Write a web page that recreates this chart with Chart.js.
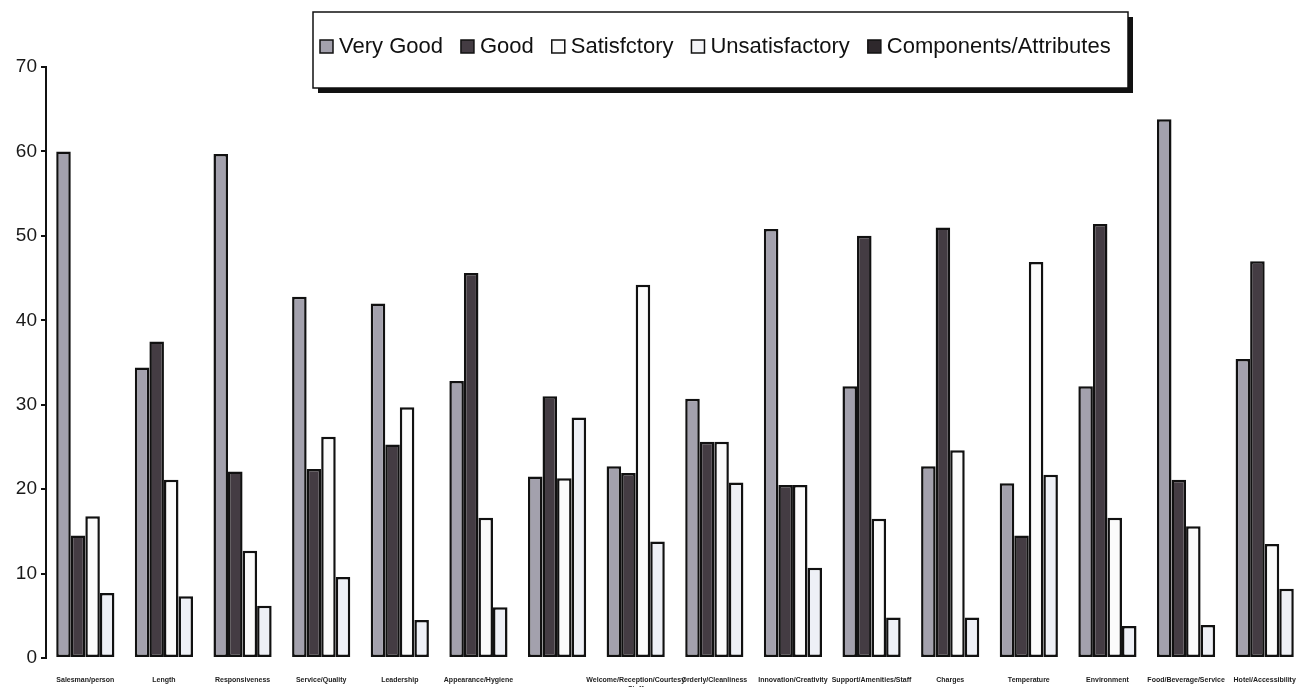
<!DOCTYPE html>
<html>
<head>
<meta charset="utf-8">
<script src="https://cdn.jsdelivr.net/npm/chart.js@4/dist/chart.umd.min.js"></script>
<style>
  html, body { margin: 0; padding: 0; background: #fff; }
  #wrap { width: 1313px; height: 687px; position: relative; }
</style>
</head>
<body>
<div id="wrap"><canvas id="barChart" width="1313" height="687"></canvas></div>
<script>
// categories (labels under the groups are barely legible in the scan)
var categories = [
    "Salesman/person", "Length", "Responsiveness", "Service/Quality",
    "Leadership", "Appearance/Hygiene", "", ["Welcome/Reception/Courtesy", "Staff"],
    "Orderly/Cleanliness", "Innovation/Creativity", "Support/Amenities/Staff", "Charges",
    "Temperature", "Environment", "Food/Beverage/Service", "Hotel/Accessibility"
];

var veryGood       = [60, 34.4, 59.7, 42.8, 42, 32.8, 21.5, 22.7, 30.7, 50.8, 32.2, 22.7, 20.7, 32.2, 63.8, 35.4];
var good           = [14.5, 37.5, 22.1, 22.4, 25.3, 45.6, 31, 21.9, 25.6, 20.5, 50, 51, 14.5, 51.4, 21.1, 47];
var satisfactory   = [16.8, 21.1, 12.7, 26.2, 29.7, 16.6, 21.3, 44.2, 25.6, 20.5, 16.5, 24.6, 46.9, 16.6, 15.6, 13.5];
var unsatisfactory = [7.7, 7.3, 6.2, 9.6, 4.5, 6, 28.5, 13.8, 20.8, 10.7, 4.8, 4.8, 21.7, 3.8, 3.9, 8.2];

var seriesNames = ["Very Good", "Good", "Satisfctory", "Unsatisfactory"];
var legendNames = ["Very Good", "Good", "Satisfctory", "Unsatisfactory", "Components/Attributes"];
var seriesColors = ["#a3a1ad", "#443c43", "#fbfbfb", "#eef0f6"];
var legendColors = ["#a3a1ad", "#443c43", "#fbfbfb", "#f4f5f8", "#2e282c"];
var yTicks = [0, 10, 20, 30, 40, 50, 60, 70];

// boxed legend with drop shadow, drawn over the plot like in the scan
var boxLegend = {
    id: "boxLegend",
    afterDraw: function (chart) {
        var ctx = chart.ctx;
        var x = 313, y = 12, w = 815, h = 76;
        ctx.save();
        ctx.fillStyle = "#111";
        ctx.fillRect(x + 5, y + 5, w, h);
        ctx.fillStyle = "#fff";
        ctx.fillRect(x, y, w, h);
        ctx.strokeStyle = "#111";
        ctx.lineWidth = 1.5;
        ctx.strokeRect(x, y, w, h);
        ctx.font = "22px 'Liberation Sans', Arial, sans-serif";
        ctx.textBaseline = "middle";
        var cx = x + 7, cy = 47;
        for (var i = 0; i < legendNames.length; i++) {
            ctx.fillStyle = legendColors[i];
            ctx.fillRect(cx, cy - 7, 13, 13);
            ctx.strokeStyle = "#111";
            ctx.lineWidth = 1.5;
            ctx.strokeRect(cx, cy - 7, 13, 13);
            ctx.fillStyle = "#111";
            ctx.fillText(legendNames[i], cx + 19, cy);
            cx += 19 + ctx.measureText(legendNames[i]).width + 18;
        }
        ctx.restore();
    }
};

var datasets = [veryGood, good, satisfactory, unsatisfactory].map(function (d, i) {
    return {
        label: seriesNames[i],
        data: d,
        backgroundColor: seriesColors[i],
        borderColor: "#111",
        borderWidth: 2.5,
        borderSkipped: false,
        categoryPercentage: 0.74,
        barPercentage: 1.0
    };
});

var barChart = new Chart(document.getElementById("barChart").getContext("2d"), {
    type: "bar",
    data: { labels: categories, datasets: datasets },
    plugins: [boxLegend],
    options: {
        responsive: false,
        animation: false,
        layout: { padding: { top: 67, right: 9, left: 0, bottom: 0 } },
        plugins: {
            legend: { display: false },
            tooltip: { enabled: false }
        },
        scales: {
            x: {
                grid: { display: false },
                border: { display: false },
                ticks: {
                    autoSkip: false,
                    maxRotation: 0,
                    minRotation: 0,
                    padding: 10,
                    color: "#222",
                    font: { size: 7, weight: "bold", family: "'Liberation Sans', Arial, sans-serif" }
                },
                afterFit: function (scale) { scale.height = 29; }
            },
            y: {
                min: 0,
                max: 70,
                afterBuildTicks: function (scale) {
                    scale.ticks = yTicks.map(function (v) { return { value: v }; });
                },
                grid: { drawOnChartArea: false, drawTicks: true, tickLength: 5, color: "#111", lineWidth: 2 },
                border: { display: true, color: "#111", width: 2 },
                ticks: {
                    padding: 4,
                    color: "#1a1a1a",
                    font: { size: 19, family: "'Liberation Sans', Arial, sans-serif" }
                },
                afterFit: function (scale) { scale.width = 46; }
            }
        }
    }
});
</script>
</body>
</html>
